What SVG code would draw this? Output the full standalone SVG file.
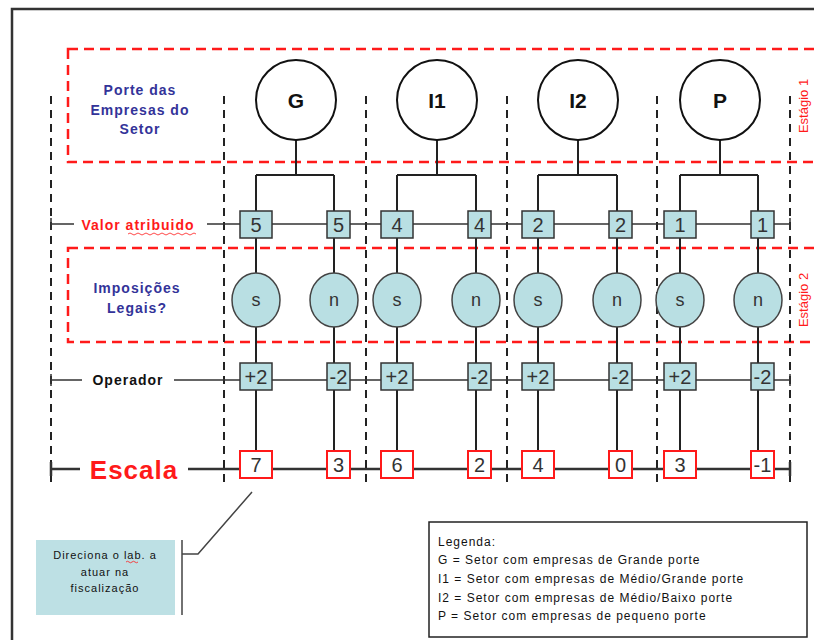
<svg xmlns="http://www.w3.org/2000/svg" width="814" height="640" viewBox="0 0 814 640">
<style>
.frame{fill:none;stroke:#333;stroke-width:2.5}
.rdash{fill:none;stroke:#ff1a1a;stroke-width:2.5;stroke-dasharray:10 6}
.kdash{fill:none;stroke:#222;stroke-width:2;stroke-dasharray:8 6}
.conn{fill:none;stroke:#222;stroke-width:2}
.row{fill:none;stroke:#333;stroke-width:1.5}
.row2{fill:none;stroke:#333;stroke-width:2.5}
.circ{fill:#fff;stroke:#111;stroke-width:2}
.ell{fill:#b9dfe3;stroke:#444;stroke-width:1.5}
.bbox{fill:#b9dfe3;stroke:#333;stroke-width:1.5}
.rbox{fill:#fff;stroke:#ff1a1a;stroke-width:2}
.t{font-family:"Liberation Sans",Arial,sans-serif;text-anchor:middle}
.clab{font-size:21px;font-weight:bold;fill:#111}
.num{font-size:20px;fill:#333}
.sn{font-size:18px;fill:#333}
.blue{font-size:14px;font-weight:bold;fill:#333399;letter-spacing:1px}
.stage{font-size:13px;fill:#ff1a1a}
.leg{font-family:"Liberation Sans",Arial,sans-serif;font-size:12px;fill:#111;letter-spacing:1px}
</style>
<rect width="814" height="640" fill="#fff"/>
<path class="frame" d="M12,640 V9 H814"/>
<g id="stage1">
<rect class="rdash" x="68" y="49" width="780" height="113"/>
<text class="t stage" transform="translate(808,106) rotate(-90)">Estágio 1</text>
<text class="t blue" x="140" y="95">Porte das</text>
<text class="t blue" x="140" y="115">Empresas do</text>
<text class="t blue" x="140" y="134">Setor</text>
</g>
<g id="stage2">
<rect class="rdash" x="68" y="248" width="780" height="94"/>
<text class="t stage" transform="translate(808,300) rotate(-90)">Estágio 2</text>
<text class="t blue" x="137" y="293">Imposições</text>
<text class="t blue" x="137" y="313">Legais?</text>
</g>
<g id="guides">
<path class="kdash" d="M51,96 V487 M224,96 V487 M366,96 V487 M507,96 V487 M657,96 V487 M790,96 V487"/>
</g>
<g id="rows">
<path class="row" d="M51,224 H74 M207,224 H790 M51,218 V230 M790,218 V230"/>
<text class="t" x="138" y="230" font-size="14" font-weight="bold" fill="#ff1a1a" letter-spacing="1">Valor atribuido</text>
<path d="M128,234 q2,-2 4,0 t4,0 t4,0 t4,0 t4,0 t4,0 t4,0 t4,0 t4,0 t4,0 t4,0 t4,0 t4,0 t4,0 t4,0 t4,0 t4,0" fill="none" stroke="#ff1a1a" stroke-width="0.8"/>
<path class="row" d="M51,380 H82 M174,380 H790 M51,374 V386 M790,374 V386"/>
<text class="t" x="128" y="385" font-size="14" font-weight="bold" fill="#111" letter-spacing="1">Operador</text>
<path class="row2" d="M51,469 H80 M188,469 H790 M51,462 V476 M790,462 V476"/>
<text class="t" x="134" y="479" font-size="26" font-weight="bold" fill="#ff1a1a" letter-spacing="1">Escala</text>
</g>
<g id="connectors">
<path class="conn" d="M296,140 V175 M256,175 H334 M256,175 V451 M334,175 V451"/>
<path class="conn" d="M437,140 V175 M397,175 H476 M397,175 V451 M476,175 V451"/>
<path class="conn" d="M578,140 V175 M538,175 H617 M538,175 V451 M617,175 V451"/>
<path class="conn" d="M720,140 V175 M680,175 H758 M680,175 V451 M758,175 V451"/>
<path d="M182,540 V615 M182,554 H198 L252,492" fill="none" stroke="#444" stroke-width="1.5"/>
</g>
<g id="node-G">
<circle class="circ" cx="296" cy="100" r="40"/><text class="t clab" x="296" y="108">G</text>
<rect class="bbox" x="240" y="211" width="32" height="27"/><text class="t num" x="256" y="232">5</text>
<rect class="bbox" x="327" y="211" width="23" height="27"/><text class="t num" x="338.5" y="232">5</text>
<ellipse class="ell" cx="256" cy="300" rx="24" ry="27"/><text class="t sn" x="256" y="306">s</text>
<ellipse class="ell" cx="334" cy="300" rx="24" ry="27"/><text class="t sn" x="334" y="306">n</text>
<rect class="bbox" x="240" y="363" width="32" height="27"/><text class="t num" x="256" y="384">+2</text>
<rect class="bbox" x="327" y="363" width="23" height="27"/><text class="t num" x="338.5" y="384">-2</text>
<rect class="rbox" x="240" y="451" width="32" height="27"/><text class="t num" x="256" y="472">7</text>
<rect class="rbox" x="327" y="451" width="23" height="27"/><text class="t num" x="338.5" y="472">3</text>
</g>
<g id="node-I1">
<circle class="circ" cx="437" cy="100" r="40"/><text class="t clab" x="437" y="108">I1</text>
<rect class="bbox" x="381" y="211" width="32" height="27"/><text class="t num" x="397" y="232">4</text>
<rect class="bbox" x="468" y="211" width="23" height="27"/><text class="t num" x="479.5" y="232">4</text>
<ellipse class="ell" cx="397" cy="300" rx="24" ry="27"/><text class="t sn" x="397" y="306">s</text>
<ellipse class="ell" cx="476" cy="300" rx="24" ry="27"/><text class="t sn" x="476" y="306">n</text>
<rect class="bbox" x="381" y="363" width="32" height="27"/><text class="t num" x="397" y="384">+2</text>
<rect class="bbox" x="468" y="363" width="23" height="27"/><text class="t num" x="479.5" y="384">-2</text>
<rect class="rbox" x="381" y="451" width="32" height="27"/><text class="t num" x="397" y="472">6</text>
<rect class="rbox" x="468" y="451" width="23" height="27"/><text class="t num" x="479.5" y="472">2</text>
</g>
<g id="node-I2">
<circle class="circ" cx="578" cy="100" r="40"/><text class="t clab" x="578" y="108">I2</text>
<rect class="bbox" x="522" y="211" width="32" height="27"/><text class="t num" x="538" y="232">2</text>
<rect class="bbox" x="609" y="211" width="23" height="27"/><text class="t num" x="620.5" y="232">2</text>
<ellipse class="ell" cx="538" cy="300" rx="24" ry="27"/><text class="t sn" x="538" y="306">s</text>
<ellipse class="ell" cx="617" cy="300" rx="24" ry="27"/><text class="t sn" x="617" y="306">n</text>
<rect class="bbox" x="522" y="363" width="32" height="27"/><text class="t num" x="538" y="384">+2</text>
<rect class="bbox" x="609" y="363" width="23" height="27"/><text class="t num" x="620.5" y="384">-2</text>
<rect class="rbox" x="522" y="451" width="32" height="27"/><text class="t num" x="538" y="472">4</text>
<rect class="rbox" x="609" y="451" width="23" height="27"/><text class="t num" x="620.5" y="472">0</text>
</g>
<g id="node-P">
<circle class="circ" cx="720" cy="100" r="40"/><text class="t clab" x="720" y="108">P</text>
<rect class="bbox" x="664" y="211" width="32" height="27"/><text class="t num" x="680" y="232">1</text>
<rect class="bbox" x="751" y="211" width="23" height="27"/><text class="t num" x="762.5" y="232">1</text>
<ellipse class="ell" cx="680" cy="300" rx="24" ry="27"/><text class="t sn" x="680" y="306">s</text>
<ellipse class="ell" cx="758" cy="300" rx="24" ry="27"/><text class="t sn" x="758" y="306">n</text>
<rect class="bbox" x="664" y="363" width="32" height="27"/><text class="t num" x="680" y="384">+2</text>
<rect class="bbox" x="751" y="363" width="23" height="27"/><text class="t num" x="762.5" y="384">-2</text>
<rect class="rbox" x="664" y="451" width="32" height="27"/><text class="t num" x="680" y="472">3</text>
<rect class="rbox" x="751" y="451" width="23" height="27"/><text class="t num" x="762.5" y="472">-1</text>
</g>
<g id="callout">
<rect x="36" y="540" width="139" height="75" fill="#bde0e4"/>
<text class="t" x="105" y="559" font-size="11" fill="#111" letter-spacing="1">Direciona o lab. a</text>
<text class="t" x="105" y="576" font-size="11" fill="#111" letter-spacing="1">atuar na</text>
<text class="t" x="105" y="592" font-size="11" fill="#111" letter-spacing="1">fiscalização</text>
<path d="M126,562 q1.5,-1.5 3,0 t3,0 t3,0 t3,0" fill="none" stroke="#ff1a1a" stroke-width="0.8"/>
</g>
<g id="legend">
<rect x="429" y="522" width="378" height="115" fill="#fff" stroke="#222" stroke-width="1.5"/>
<text class="leg" x="438" y="546">Legenda:</text>
<text class="leg" x="438" y="564">G = Setor com empresas de Grande porte</text>
<text class="leg" x="438" y="583">I1 = Setor com empresas de Médio/Grande porte</text>
<text class="leg" x="438" y="602">I2 = Setor com empresas de Médio/Baixo porte</text>
<text class="leg" x="438" y="620">P = Setor com empresas de pequeno porte</text>
</g>
</svg>
